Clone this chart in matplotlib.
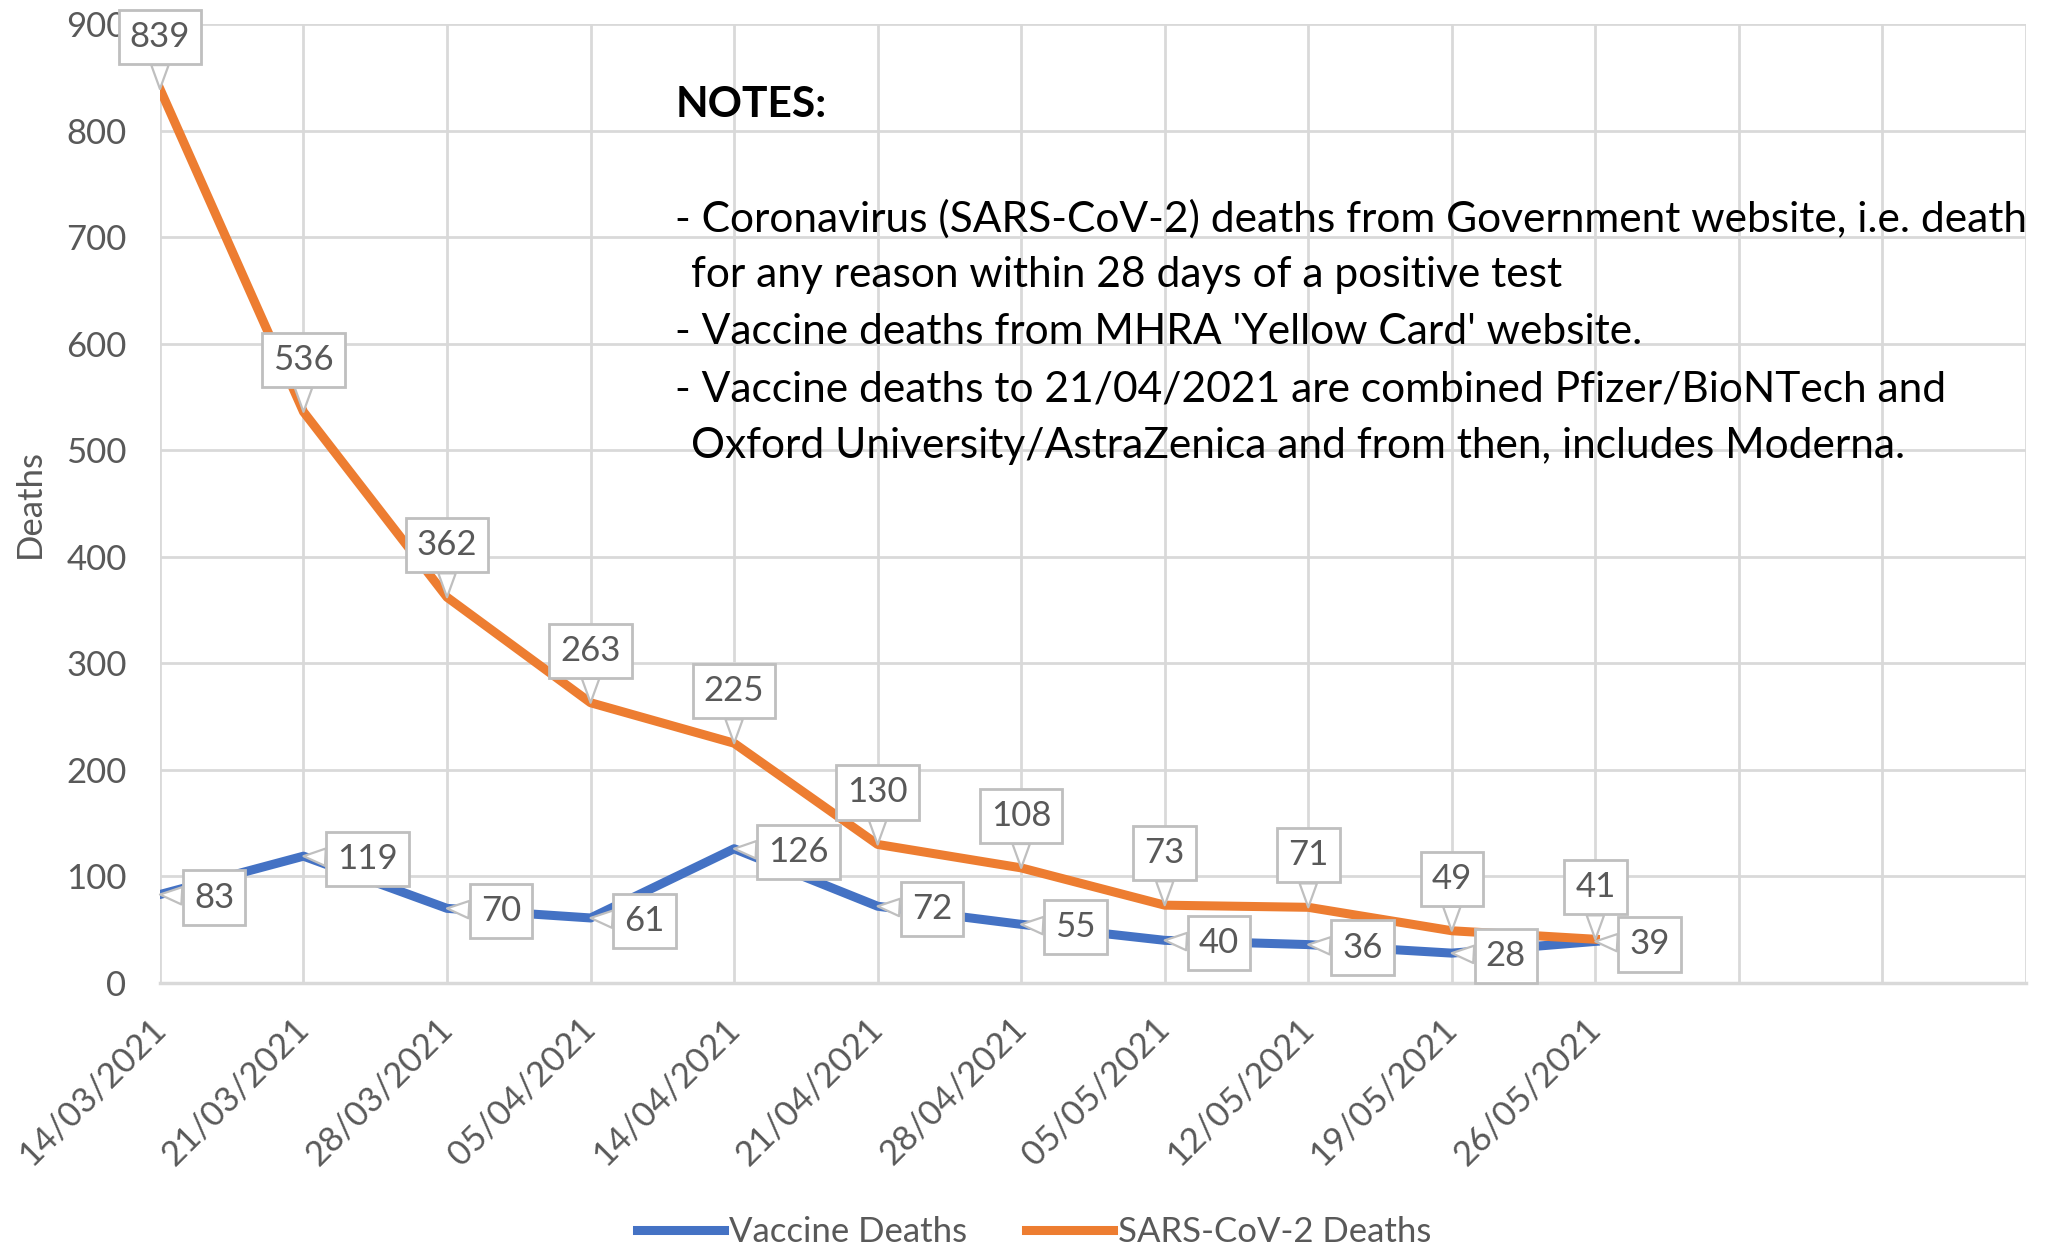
import matplotlib
matplotlib.use("Agg")
import matplotlib.pyplot as plt

plt.rcParams['font.family'] = ['Lato', 'DejaVu Sans']

# dados
datas = ['14/03/2021', '21/03/2021', '28/03/2021', '05/04/2021', '14/04/2021',
         '21/04/2021', '28/04/2021', '05/05/2021', '12/05/2021', '19/05/2021',
         '26/05/2021']
mortesVacina = [83, 119, 70, 61, 126, 72, 55, 40, 36, 28, 39]
mortesSars = [839, 536, 362, 263, 225, 130, 108, 73, 71, 49, 41]
nomesSeries = ['Vaccine Deaths', 'SARS-CoV-2 Deaths']
ticksY = [0, 100, 200, 300, 400, 500, 600, 700, 800, 900]
notas = [
    ("NOTES:", 0),
    ("", 0),
    ("- Coronavirus (SARS-CoV-2) deaths from Government website, i.e. death", 0),
    ("for any reason within 28 days of a positive test", 1),
    ("- Vaccine deaths from MHRA 'Yellow Card' website.", 0),
    ("- Vaccine deaths to 21/04/2021 are combined Pfizer/BioNTech and", 0),
    ("Oxford University/AstraZenica and from then, includes Moderna.", 1),
]

AZUL = '#4472C4'
LARANJA = '#ED7D31'
CINZA_GRADE = '#D9D9D9'
CINZA_TEXTO = '#595959'
CINZA_CAIXA = '#BFBFBF'


def rotulo(ax, x, y, dx, dy, ha):
    """ Desenha um rotulo de dados no estilo 'callout' do Excel """
    ax.annotate(str(y), xy=(x, y), xytext=(dx, dy), textcoords='offset pixels',
                ha=ha, va='center', fontsize=25, color=CINZA_TEXTO, zorder=6,
                bbox=dict(boxstyle='square,pad=0.32', fc='white', ec=CINZA_CAIXA, lw=2),
                arrowprops=dict(arrowstyle='wedge,tail_width=0.5', fc='white',
                                ec=CINZA_CAIXA, lw=1.6, shrinkA=0, shrinkB=0))


fig = plt.figure(figsize=(20.56, 12.49), dpi=100)
ax = fig.add_axes([0.0778, 0.213, 0.9076, 0.7678])

xs = list(range(len(datas)))
ax.plot(xs, mortesVacina, color=AZUL, lw=6.5, solid_joinstyle='round', zorder=3, label=nomesSeries[0])
ax.plot(xs, mortesSars, color=LARANJA, lw=6.5, solid_joinstyle='round', zorder=3, label=nomesSeries[1])

for i in xs:
    rotulo(ax, i, mortesSars[i], 0, 52, 'center')
    rotulo(ax, i, mortesVacina[i], 34, -3, 'left')

# eixo com 13 categorias, as ultimas ficam vazias
ax.set_xlim(0, 13)
ax.set_ylim(0, 900)
ax.set_xticks(range(14))
ax.set_xticklabels(datas + [''] * 3, rotation=45, ha='right', va='center',
                   rotation_mode='anchor')
ax.set_yticks(ticksY)
ax.grid(True, color=CINZA_GRADE, lw=2, zorder=0)
ax.set_axisbelow(True)
for lado in ['top', 'right', 'left']:
    ax.spines[lado].set_visible(False)
ax.spines['bottom'].set_color(CINZA_GRADE)
ax.spines['bottom'].set_linewidth(2.5)
ax.tick_params(axis='both', length=0, labelsize=25, labelcolor=CINZA_TEXTO)
ax.tick_params(axis='y', pad=24)
ax.tick_params(axis='x', pad=29)

ax.set_ylabel('Deaths', fontsize=25, color=CINZA_TEXTO)
ax.yaxis.set_label_coords(-0.061, 0.5)

# notas
for n, (linha, recuo) in enumerate(notas):
    fig.text(0.3284 + 0.0075 * recuo, 0.916 - 0.0455 * n, linha, fontsize=30.6,
             color='black', va='center', ha='left',
             fontweight='bold' if n == 0 else 'normal')

fig.legend(loc='center', bbox_to_anchor=(0.503, 0.0135), ncol=2, frameon=False,
           fontsize=25, labelcolor=CINZA_TEXTO, handlelength=2.5, handletextpad=0.15,
           columnspacing=1.7, borderaxespad=0)

fig.savefig('out.png', dpi=100)
